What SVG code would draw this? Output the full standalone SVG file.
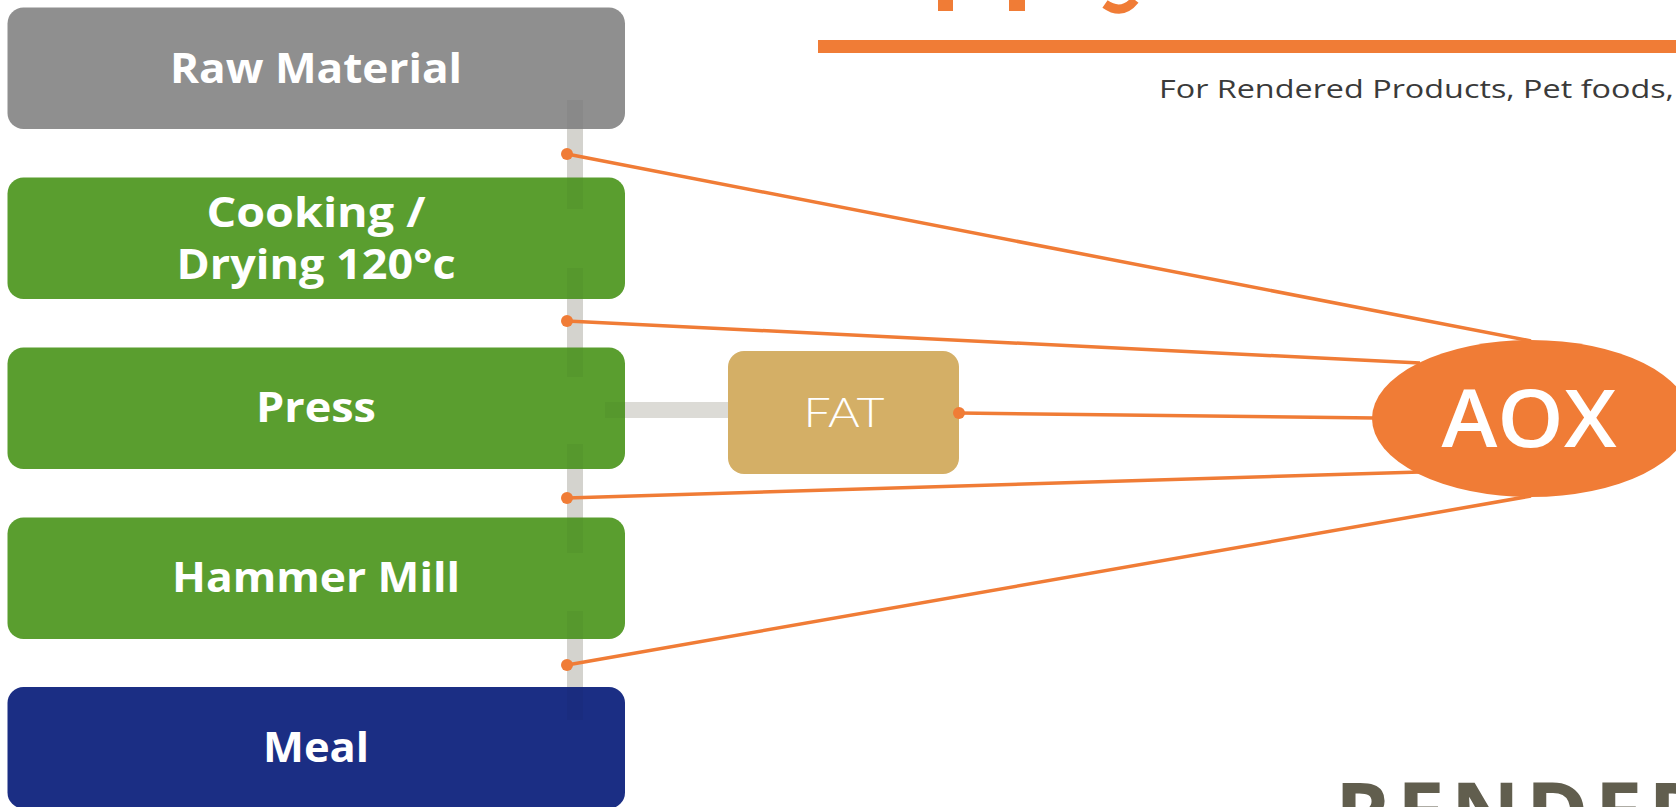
<svg xmlns="http://www.w3.org/2000/svg" width="1676" height="807" viewBox="0 0 1676 807">
  <style>
    .box { stroke: none; }
    .lbl { font-family: "Open Sans", "Liberation Sans", sans-serif; font-weight: 700; font-size: 41px; fill: #ffffff; text-anchor: middle; }
    .bar { fill: #DCDBD6; }
    .shade { fill: #000000; fill-opacity: 0.035; }
    .con { stroke: #F07C36; stroke-width: 3.5; fill: none; }
    .dot { fill: #F07C36; }
  </style>
  <rect width="1676" height="807" fill="#ffffff"/>

  <!-- cropped title fragments and rule -->
  <g id="title">
    <rect x="938" y="0" width="15" height="11" fill="#F07C36"/>
    <rect x="1009" y="0" width="16" height="11" fill="#F07C36"/>
    <path d="M1105,4 Q1122,16 1135,0" stroke="#F07C36" stroke-width="9" fill="none"/>
    <rect x="818" y="40" width="858" height="13" fill="#F07C36"/>
    <text x="1159" y="98" font-family="'Open Sans', 'Liberation Sans', sans-serif" font-size="26" fill="#3a3a3a" textLength="515" lengthAdjust="spacingAndGlyphs">For Rendered Products, Pet foods,</text>
  </g>

  <g id="bars-under">
    <rect class="bar" x="567" y="100" width="16" height="109"/>
    <rect class="bar" x="567" y="268" width="16" height="109"/>
    <rect class="bar" x="567" y="444" width="16" height="109"/>
    <rect class="bar" x="567" y="611" width="16" height="109"/>
    <rect class="bar" x="605" y="402" width="123" height="16"/>
  </g>

  <g id="n-raw"><rect class="box" x="7.5" y="7.5" width="617.5" height="121.5" rx="16" fill="#8F8F8F"/><text class="lbl" x="316" y="83" textLength="292" lengthAdjust="spacingAndGlyphs">Raw Material</text></g>
  <g id="n-cook"><rect class="box" x="7.5" y="177.5" width="617.5" height="121.5" rx="16" fill="#5A9E2F"/><text class="lbl" x="316" y="227" textLength="219" lengthAdjust="spacingAndGlyphs">Cooking /</text><text class="lbl" x="316" y="279" textLength="279" lengthAdjust="spacingAndGlyphs">Drying 120°c</text></g>
  <g id="n-press"><rect class="box" x="7.5" y="347.5" width="617.5" height="121.5" rx="16" fill="#5A9E2F"/><text class="lbl" x="316" y="422" textLength="120" lengthAdjust="spacingAndGlyphs">Press</text></g>
  <g id="n-mill"><rect class="box" x="7.5" y="517.5" width="617.5" height="121.5" rx="16" fill="#5A9E2F"/><text class="lbl" x="316" y="592" textLength="288" lengthAdjust="spacingAndGlyphs">Hammer Mill</text></g>
  <g id="n-meal"><rect class="box" x="7.5" y="687" width="617.5" height="121.5" rx="16" fill="#1B2E84"/><text class="lbl" x="316" y="762" textLength="106" lengthAdjust="spacingAndGlyphs">Meal</text></g>
  <g id="n-fat"><rect class="box" x="728" y="351" width="231" height="123" rx="16" fill="#D4AF66"/><text x="844" y="427" font-family="Lato, 'Open Sans', sans-serif" font-weight="300" font-size="42" fill="#ffffff" text-anchor="middle" textLength="81" lengthAdjust="spacingAndGlyphs">FAT</text></g>

  <g id="connectors">
    <rect class="shade" x="567" y="100" width="16" height="109"/>
    <rect class="shade" x="567" y="268" width="16" height="109"/>
    <rect class="shade" x="567" y="444" width="16" height="109"/>
    <rect class="shade" x="567" y="611" width="16" height="109"/>
    <rect class="shade" x="605" y="402" width="20" height="16"/>
    <line class="con" x1="567" y1="154" x2="1531" y2="341"/>
    <line class="con" x1="567" y1="321" x2="1420" y2="363"/>
    <line class="con" x1="959" y1="413" x2="1375" y2="418"/>
    <line class="con" x1="567" y1="498" x2="1420" y2="472"/>
    <line class="con" x1="567" y1="665" x2="1531" y2="496"/>
    <circle class="dot" cx="567" cy="154" r="6"/>
    <circle class="dot" cx="567" cy="321" r="6"/>
    <circle class="dot" cx="567" cy="498" r="6"/>
    <circle class="dot" cx="567" cy="665" r="6"/>
    <circle class="dot" cx="959" cy="413" r="6"/>
  </g>

  <g id="n-aox"><ellipse cx="1531" cy="418.5" rx="159" ry="78.5" fill="#F07C36"/><text x="1529" y="447" font-family="'Open Sans', 'Liberation Sans', sans-serif" font-weight="600" font-size="79" fill="#ffffff" text-anchor="middle" textLength="175" lengthAdjust="spacingAndGlyphs">AOX</text></g>

  <g id="brand"><text x="1335" y="843" font-family="'Open Sans', 'Liberation Sans', sans-serif" font-weight="700" font-size="85" letter-spacing="6" fill="#615E4E">RENDER</text></g>
</svg>
